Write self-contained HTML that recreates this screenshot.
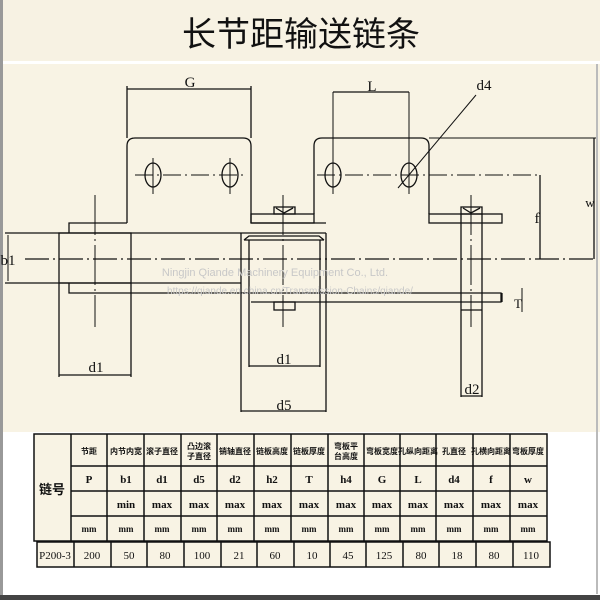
<!DOCTYPE html>
<html><head><meta charset="utf-8"><style>
html,body{margin:0;padding:0;background:#fff}
svg{display:block}
text{font-family:"Liberation Serif","Noto Serif CJK SC",serif;fill:#111}
.c{font-family:"Liberation Sans","Noto Sans CJK SC",sans-serif;font-weight:bold}
</style></head><body>
<svg width="600" height="600" viewBox="0 0 600 600" xmlns="http://www.w3.org/2000/svg">
<rect x="0" y="0" width="600" height="600" fill="#fff"/>
<rect x="0" y="0" width="600" height="61" fill="#f7f2e3"/>
<rect x="0" y="64" width="600" height="368" fill="#f8f3e4"/>
<rect x="0" y="0" width="3" height="600" fill="#999"/>
<rect x="596" y="64" width="2" height="530" fill="#bbb"/>
<rect x="0" y="595" width="600" height="5" fill="#444"/>
<text x="301" y="46" text-anchor="middle" font-size="34" style="font-family:'Noto Sans CJK SC',sans-serif">长节距输送链条</text>

<g stroke="#111" stroke-width="1.3" fill="none">
<!-- center line -->
<line x1="25" y1="259" x2="595" y2="259" stroke-dasharray="24,4,2,4"/>
<!-- left plate -->
<path d="M127 223 V146 Q127 138 135 138 H243 Q251 138 251 146 V223"/>
<!-- right plate -->
<path d="M314 214 V146 Q314 138 322 138 H421 Q429 138 429 146 V214"/>
<!-- holes -->
<ellipse cx="153" cy="175" rx="8" ry="12"/><ellipse cx="230" cy="175" rx="8" ry="12"/>
<ellipse cx="333" cy="175" rx="8" ry="12"/><ellipse cx="409" cy="175" rx="8" ry="12"/>
<line x1="135" y1="175" x2="246" y2="175" stroke-dasharray="18,4,2,4" stroke-width="1"/>
<line x1="317" y1="175" x2="540" y2="175" stroke-dasharray="18,4,2,4" stroke-width="1"/>
<line x1="153" y1="158" x2="153" y2="194" stroke-width="1"/><line x1="230" y1="158" x2="230" y2="194" stroke-width="1"/>
<line x1="333" y1="92" x2="333" y2="194" stroke-width="1"/><line x1="409" y1="92" x2="409" y2="194" stroke-width="1"/>
<!-- G dim -->
<line x1="127" y1="86" x2="127" y2="138"/><line x1="251" y1="86" x2="251" y2="138"/>
<line x1="127" y1="89" x2="251" y2="89"/>
<line x1="333" y1="92" x2="409" y2="92"/>
<!-- d4 leader -->
<line x1="398" y1="188" x2="476" y2="95" stroke-width="1"/>
<!-- w, f -->
<line x1="429" y1="138" x2="596" y2="138" stroke-width="1"/>
<line x1="594" y1="138" x2="594" y2="259"/>
<line x1="540" y1="175" x2="540" y2="259"/>
<!-- left roller and plates -->
<path d="M69 233 V223 H127"/>
<rect x="59" y="233" width="72" height="50"/>
<line x1="5" y1="233" x2="241" y2="233"/>
<line x1="5" y1="283" x2="241" y2="283"/>
<line x1="8" y1="235" x2="8" y2="281" stroke-width="1"/>
<path d="M69 283 V293 H501 V302 H251"/>
<!-- inner plates top -->
<rect x="251" y="214" width="63" height="9"/>
<rect x="429" y="214" width="73" height="9"/>
<line x1="251" y1="223" x2="326" y2="223"/>
<!-- middle roller -->
<path d="M241 233 V412 M326 233 V412 M241 233 H326"/>
<path d="M244 240 L249 236 H319 L324 240 M244 240 H324"/>
<line x1="249" y1="240" x2="249" y2="367"/><line x1="320" y1="240" x2="320" y2="367"/>
<line x1="249" y1="366" x2="320" y2="366"/>
<line x1="241" y1="411" x2="326" y2="411"/>
<!-- caps -->
<rect x="274" y="207" width="21" height="7"/><path d="M276 208 L284 213 L293 208"/>
<rect x="274" y="302" width="21" height="8"/>
<rect x="461" y="207" width="21" height="7"/><path d="M463 208 L471 213 L480 208"/>
<!-- right pin -->
<line x1="461" y1="214" x2="461" y2="397"/><line x1="482" y1="214" x2="482" y2="397"/>
<line x1="461" y1="310" x2="482" y2="310"/>
<line x1="461" y1="396" x2="482" y2="396"/>
<!-- T dim -->
<line x1="502" y1="293" x2="502" y2="302"/>
<line x1="522" y1="288" x2="522" y2="312" stroke-width="1"/>
<!-- left d1 -->
<line x1="59" y1="283" x2="59" y2="377"/><line x1="131" y1="283" x2="131" y2="377"/>
<line x1="59" y1="375" x2="131" y2="375"/>
<!-- center verticals -->
<line x1="95" y1="195" x2="95" y2="327" stroke-dasharray="40,4,2,4" stroke-width="1"/>
<line x1="283" y1="195" x2="283" y2="327" stroke-dasharray="40,4,2,4" stroke-width="1"/>
<line x1="471" y1="195" x2="471" y2="327" stroke-dasharray="40,4,2,4" stroke-width="1"/>
</g>
<g font-size="15">
<text x="190" y="87" text-anchor="middle">G</text>
<text x="372" y="91" text-anchor="middle">L</text>
<text x="484" y="90" text-anchor="middle">d4</text>
<text x="590" y="207" font-size="13" text-anchor="middle">w</text>
<text x="537" y="223" text-anchor="middle">f</text>
<text x="8" y="265" text-anchor="middle">b1</text>
<text x="96" y="372" text-anchor="middle">d1</text>
<text x="284" y="364" text-anchor="middle">d1</text>
<text x="284" y="410" text-anchor="middle">d5</text>
<text x="472" y="394" text-anchor="middle">d2</text>
<text x="518" y="308" font-size="13" text-anchor="middle">T</text>
</g>
<text x="275" y="276" text-anchor="middle" font-size="11" fill="#bbb" style="fill:#c8c8c8;font-family:'Liberation Sans',sans-serif">Ningjin Qiande Machinery Equipment Co., Ltd.</text>
<text x="290" y="294" text-anchor="middle" font-size="10" style="fill:#c8c8c8;font-family:'Liberation Sans',sans-serif">https://qiande.en.china.cn/Transmission-Chains/qiande/</text>

<!-- table -->
<g stroke="#111" stroke-width="1.5">
<rect x="34" y="434" width="513" height="107" fill="#f8f3e4"/>
<line x1="71" y1="434" x2="71" y2="541"/>
<line x1="107" y1="434" x2="107" y2="541"/><line x1="144" y1="434" x2="144" y2="541"/>
<line x1="181" y1="434" x2="181" y2="541"/><line x1="217" y1="434" x2="217" y2="541"/>
<line x1="254" y1="434" x2="254" y2="541"/><line x1="291" y1="434" x2="291" y2="541"/>
<line x1="328" y1="434" x2="328" y2="541"/><line x1="364" y1="434" x2="364" y2="541"/>
<line x1="400" y1="434" x2="400" y2="541"/><line x1="436" y1="434" x2="436" y2="541"/>
<line x1="473" y1="434" x2="473" y2="541"/><line x1="510" y1="434" x2="510" y2="541"/>
<line x1="71" y1="466" x2="547" y2="466"/><line x1="71" y1="491" x2="547" y2="491"/><line x1="71" y1="516" x2="547" y2="516"/>
<rect x="37" y="542" width="513" height="25" fill="#f8f3e4"/>
<line x1="74" y1="542" x2="74" y2="567"/><line x1="111" y1="542" x2="111" y2="567"/>
<line x1="147" y1="542" x2="147" y2="567"/><line x1="184" y1="542" x2="184" y2="567"/>
<line x1="221" y1="542" x2="221" y2="567"/><line x1="257" y1="542" x2="257" y2="567"/>
<line x1="294" y1="542" x2="294" y2="567"/><line x1="330" y1="542" x2="330" y2="567"/>
<line x1="366" y1="542" x2="366" y2="567"/><line x1="403" y1="542" x2="403" y2="567"/>
<line x1="439" y1="542" x2="439" y2="567"/><line x1="476" y1="542" x2="476" y2="567"/>
<line x1="513" y1="542" x2="513" y2="567"/>
</g>
<g class="c" font-size="8" text-anchor="middle">
<text class="c" x="89" y="454">节距</text>
<text class="c" x="126" y="454">内节内宽</text>
<text class="c" x="162" y="454">滚子直径</text>
<text class="c" x="199" y="449">凸边滚</text><text class="c" x="199" y="459">子直径</text>
<text class="c" x="235" y="454">销轴直径</text>
<text class="c" x="272" y="454">链板高度</text>
<text class="c" x="309" y="454">链板厚度</text>
<text class="c" x="346" y="449">弯板平</text><text class="c" x="346" y="459">台高度</text>
<text class="c" x="382" y="454">弯板宽度</text>
<text class="c" x="418" y="454">孔纵向距离</text>
<text class="c" x="454" y="454">孔直径</text>
<text class="c" x="491" y="454">孔横向距离</text>
<text class="c" x="528" y="454">弯板厚度</text>
<text class="c" x="52" y="494" font-size="13">链号</text>
</g>
<g font-size="11" text-anchor="middle" style="font-family:'Liberation Mono',monospace;font-weight:bold">
<text x="89" y="483">P</text><text x="126" y="483">b1</text><text x="162" y="483">d1</text><text x="199" y="483">d5</text><text x="235" y="483">d2</text><text x="272" y="483">h2</text><text x="309" y="483">T</text><text x="346" y="483">h4</text><text x="382" y="483">G</text><text x="418" y="483">L</text><text x="454" y="483">d4</text><text x="491" y="483">f</text><text x="528" y="483">w</text>
<text x="126" y="508">min</text><text x="162" y="508">max</text><text x="199" y="508">max</text><text x="235" y="508">max</text><text x="272" y="508">max</text><text x="309" y="508">max</text><text x="346" y="508">max</text><text x="382" y="508">max</text><text x="418" y="508">max</text><text x="454" y="508">max</text><text x="491" y="508">max</text><text x="528" y="508">max</text>
</g>
<g font-size="9" text-anchor="middle" style="font-family:'Liberation Mono',monospace;font-weight:bold">
<text x="89" y="532">mm</text><text x="126" y="532">mm</text><text x="162" y="532">mm</text><text x="199" y="532">mm</text><text x="235" y="532">mm</text><text x="272" y="532">mm</text><text x="309" y="532">mm</text><text x="346" y="532">mm</text><text x="382" y="532">mm</text><text x="418" y="532">mm</text><text x="454" y="532">mm</text><text x="491" y="532">mm</text><text x="528" y="532">mm</text>
</g>
<g font-size="11" text-anchor="middle">
<text x="55" y="559">P200-3</text><text x="92" y="559">200</text><text x="129" y="559">50</text><text x="165" y="559">80</text><text x="202" y="559">100</text><text x="239" y="559">21</text><text x="275" y="559">60</text><text x="312" y="559">10</text><text x="348" y="559">45</text><text x="384" y="559">125</text><text x="421" y="559">80</text><text x="457" y="559">18</text><text x="494" y="559">80</text><text x="531" y="559">110</text>
</g>
</svg>
</body></html>
